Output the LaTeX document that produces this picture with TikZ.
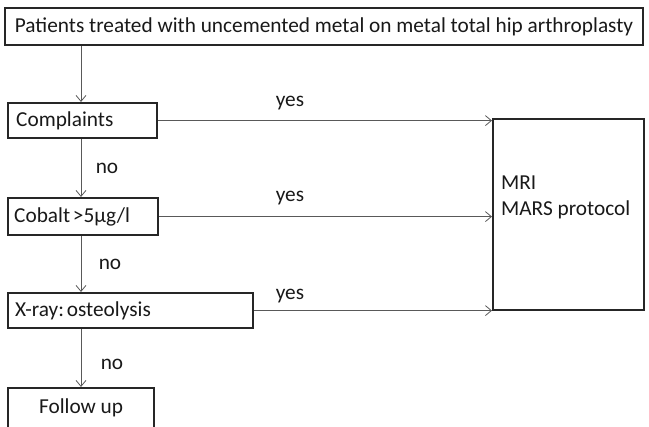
\documentclass[tikz,border=0pt]{standalone}
\usepackage{fontspec}
\setmainfont{Carlito}
\usetikzlibrary{arrows.meta}
\begin{document}
\begin{tikzpicture}[x=1pt,y=-1pt,
  every node/.style={font=\fontsize{21.3}{26}\selectfont, text=black!90},
  box/.style={draw=black!85, line width=2.2pt, rectangle, inner sep=0pt},
  leftbox/.style={box, anchor=north west, inner xsep=9pt, inner ysep=0pt},
  flow/.style={draw=black!65, line width=1pt,
    -{Straight Barb[length=6pt,width=10pt,line width=0.8pt]}},
  lbl/.style={inner sep=0pt}]
  \useasboundingbox (0,0) rectangle (649,427);

  % boxes
  \node[box, minimum width=638, minimum height=37] (start) at (324,26.5)
    {Patients treated with uncemented metal on metal total hip arthroplasty};
  \node[box, minimum width=149, minimum height=35, anchor=north west] (compl) at (7,102) {};
  \node[lbl, anchor=west] (compltext) at ([xshift=9pt]compl.west) {Complaints};
  \node[box, minimum width=150, minimum height=37, anchor=north west] (cobalt) at (7,197) {};
  \node[lbl, anchor=west] (cobalttext) at ([xshift=7pt]cobalt.west) {Cobalt\ \kern-2pt>5µg/l};
  \node[box, minimum width=245, minimum height=35, anchor=north west] (xray) at (7,292) {};
  \node[lbl, anchor=west] (xraytext) at ([xshift=8pt]xray.west) {X-ray:\kern-2pt\ osteolysis};
  \node[box, minimum width=146, minimum height=40, anchor=north west]
    (follow) at (7,387) {Follow up};
  \node[box, minimum width=151, minimum height=191, anchor=north west]
    (mri) at (492,118) {};
  \node[lbl, anchor=north west, align=left] (mritext) at (501,176) {MRI\\MARS protocol};

  % vertical path
  \draw[flow] (start.south -| 81,0) -- (compl.north -| 81,0);
  \draw[flow] (compl.south -| 81,0) -- (cobalt.north -| 81,0);
  \draw[flow] (cobalt.south -| 81,0) -- (xray.north -| 81,0);
  \draw[flow] (xray.south -| 81,0) -- (follow.north -| 81,0);

  % branches to MRI
  \draw[flow] (compl.east) -- (compl.east -| mri.west);
  \draw[flow] (cobalt.east) -- (cobalt.east -| mri.west);
  \draw[flow] (xray.east) -- (xray.east -| mri.west);

  % labels
  \node[lbl] (yes1) at (290,103) {yes};
  \node[lbl] (yes2) at (290,198) {yes};
  \node[lbl] (yes3) at (290,296) {yes};
  \node[lbl] (no1) at (107,168) {no};
  \node[lbl] (no2) at (110,264) {no};
  \node[lbl] (no3) at (112,364) {no};
\end{tikzpicture}
\end{document}
